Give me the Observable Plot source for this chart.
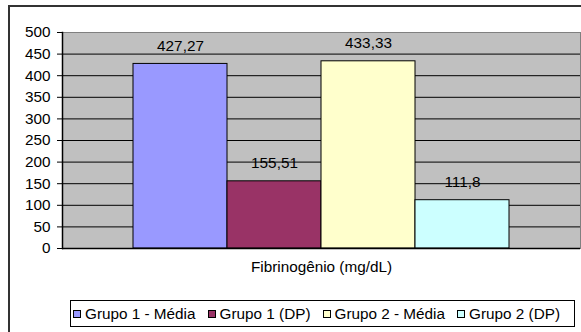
<!DOCTYPE html>
<html>
<head>
<meta charset="utf-8">
<script src="https://cdn.jsdelivr.net/npm/d3@7"></script>
<script src="https://cdn.jsdelivr.net/npm/@observablehq/plot@0.6"></script>
<style>
  html, body { margin: 0; padding: 0; background: #fff; }
  #chart { position: relative; width: 581px; height: 332px; overflow: hidden; font-family: "Liberation Sans", Arial, sans-serif; }
  #border { position: absolute; left: 8px; top: 5px; width: 600px; height: 400px; border: 2px solid #333; box-sizing: border-box; }
  #plot { position: absolute; left: 0; top: 0; }
  #legend { position: absolute; left: 70px; top: 300px; width: 505px; height: 27px; box-sizing: border-box;
            border: 1px solid #000; background: #fff; display: flex; align-items: center; justify-content: flex-start;
            padding-left: 2px; font-size: 15.3px; color: #000; white-space: nowrap; }
  .item { display: flex; align-items: center; margin-right: 12px; }
  .sw { width: 6px; height: 6px; border: 1px solid #000; margin-right: 4px; }
</style>
</head>
<body>
<div id="chart">
  <div id="border"></div>
  <div id="plot"></div>
  <div id="legend"></div>
</div>
<script>
// Fibrinogen: mean and standard deviation per group
const series = ["Grupo 1 - Média", "Grupo 1 (DP)", "Grupo 2 - Média", "Grupo 2 (DP)"];
const values = [427.27, 155.51, 433.33, 111.8];
const colors = ["#9999FF", "#993366", "#FFFFCC", "#CCFFFF"];
const yTicks = [0, 50, 100, 150, 200, 250, 300, 350, 400, 450, 500];
const category = "Fibrinogênio (mg/dL)";

const data = series.map((s, i) => ({serie: s, valor: values[i], cor: colors[i]}));
const fmt = v => String(v).replace(".", ",");

const plot = Plot.plot({
  width: 581,
  height: 332,
  marginLeft: 62,
  marginRight: 1,
  marginTop: 32,
  marginBottom: 84,
  style: {fontFamily: "Liberation Sans, Arial, sans-serif", fontSize: "15.3px", color: "#000", background: "transparent"},
  x: {domain: series, paddingInner: 0, paddingOuter: 0.75, axis: null},
  y: {domain: [0, 500], axis: null},
  marks: [
    Plot.frame({fill: "#C0C0C0", stroke: null}),
    Plot.ruleY(yTicks.filter(t => t > 0 && t < 500), {stroke: "#000", strokeWidth: 1}),
    Plot.frame({stroke: "#808080", strokeWidth: 1}),
    Plot.barY(data, {x: "serie", y: "valor", fill: "cor", stroke: "#000", strokeWidth: 1, inset: 0}),
    Plot.text(data, {x: "serie", y: "valor", text: d => fmt(d.valor), dy: -18, fill: "#000", fontSize: 15.3}),
    Plot.ruleY([0], {stroke: "#000", strokeWidth: 1.5}),
    Plot.frame({anchor: "left", stroke: "#000", strokeWidth: 1.5}),
    Plot.axisY(yTicks, {label: null, tickSize: 5, tickPadding: 7, fontSize: 15.3, stroke: "#000"}),
    Plot.text([category], {frameAnchor: "bottom", dy: 23, fill: "#000", fontSize: 15.3})
  ]
});
document.getElementById("plot").appendChild(plot);

const legend = document.getElementById("legend");
series.forEach((s, i) => {
  const item = document.createElement("div");
  item.className = "item";
  const sw = document.createElement("span");
  sw.className = "sw";
  sw.style.background = colors[i];
  const lab = document.createElement("span");
  lab.textContent = s;
  item.appendChild(sw);
  item.appendChild(lab);
  legend.appendChild(item);
});
</script>
</body>
</html>
